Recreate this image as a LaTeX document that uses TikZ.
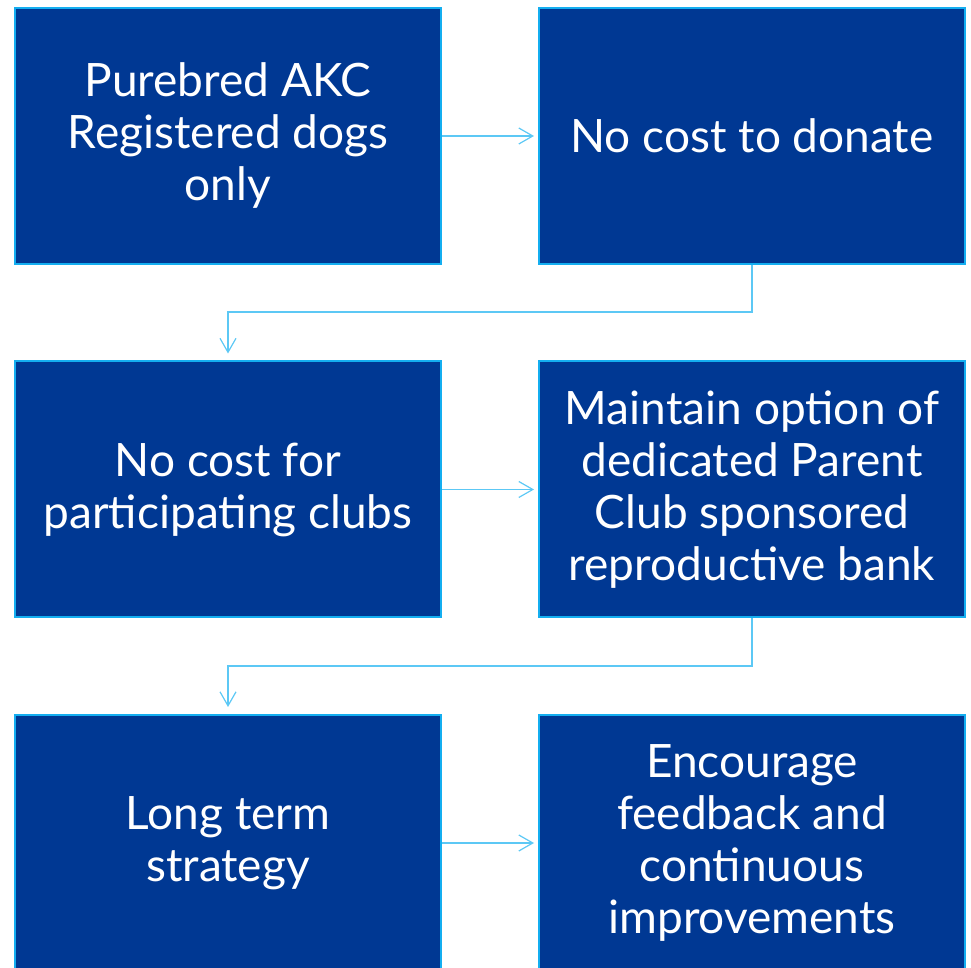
\documentclass[tikz,border=0pt]{standalone}
\usepackage{fontspec}
\setmainfont{Lato}
\usetikzlibrary{arrows.meta}
\definecolor{boxblue}{HTML}{003893}
\definecolor{edgeblue}{HTML}{14AEF0}
\definecolor{linkblue}{HTML}{5CC8F5}

\begin{document}
\begin{tikzpicture}[
    x=0.5pt, y=-0.5pt,
    stepbox/.style={draw=edgeblue, fill=boxblue, line width=1pt,
      minimum width=213pt, minimum height=128pt, inner sep=0pt,
      text=white, align=center, font=\fontsize{23}{26}\selectfont},
    link/.style={draw=linkblue, line width=0.6pt,
      -{Straight Barb[length=7pt,width=8pt]}}
    ]
    \useasboundingbox (0,0) rectangle (971,968);
    % first row
    \node[stepbox] (akc) at (228,136) {Purebred AKC\\Registered dogs\\only};
    \node[stepbox] (donate) at (752,136) {No cost to donate};
    % second row
    \node[stepbox] (clubs) at (228,489.5) {No cost for\\participating clubs};
    \node[stepbox] (bank) at (752,489.5) {Maintain option of\\dedicated Parent\\Club sponsored\\reproductive bank};
    % third row
    \node[stepbox] (strategy) at (228,843) {Long term\\strategy};
    \node[stepbox] (feedback) at (752,843) {Encourage\\feedback and\\continuous\\improvements};
    % links
    \draw[link, shorten >=2pt] (akc.east) -- (donate.west);
    \draw[link, shorten >=2pt] (clubs.east) -- (bank.west);
    \draw[link, shorten >=2pt] (strategy.east) -- (feedback.west);
    \draw[link, shorten >=3.5pt] (donate.south) -- (752,312) -| (clubs.north);
    \draw[link, shorten >=3.5pt] (bank.south) -- (752,666) -| (strategy.north);
\end{tikzpicture}
\end{document}
